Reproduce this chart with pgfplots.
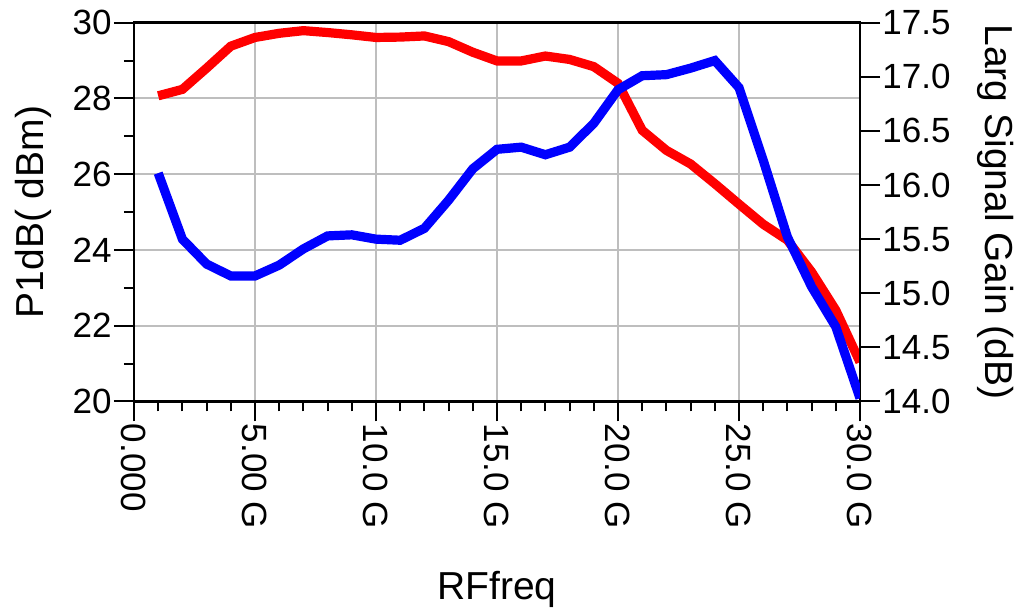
\documentclass[border=0pt]{standalone}
\usepackage{fontspec}
\setmainfont{Liberation Sans}
\usepackage{pgfplots}
\pgfplotsset{compat=1.18}
\pgfplotsset{/pgf/number format/assume math mode=true}
\definecolor{gridgray}{RGB}{190,190,190}
\begin{document}
\begin{tikzpicture}
\path[use as bounding box] (-67pt,-106.75pt) rectangle (445pt,200.75pt);
\begin{axis}[
  at={(0,0)}, anchor=south west,
  scale only axis, width=363pt, height=189.4pt,
  xmin=0, xmax=30, ymin=20, ymax=30,
  xtick={0,5,10,15,20,25,30},
  xticklabels={0.000,5.00 G,10.0 G,15.0 G,20.0 G,25.0 G,30.0 G},
  ytick={20,22,24,26,28,30},
  minor xtick={1,2,3,4,6,7,8,9,11,12,13,14,16,17,18,19,21,22,23,24,26,27,28,29},
  minor ytick={21,23,25,27,29},
  xtick pos=bottom, ytick pos=left,
  tick align=outside,
  major tick length=10pt, minor tick length=5pt,
  every tick/.style={black, line width=1pt},
  axis line style={line width=1.3pt},
  xmajorgrids, ymajorgrids,
  major grid style={gridgray, line width=1pt},
  tick label style={font=\fontsize{17.5}{21}\selectfont, inner sep=1pt},
  xticklabel style={rotate=-90, anchor=west},
  every axis x label/.style={at={(axis description cs:0.5,-0.5214)}, anchor=base},
  every axis y label/.style={at={(axis description cs:-0.1253,0.5)}, anchor=base, rotate=90},
  label style={font=\fontsize{19.5}{23}\selectfont},
  xlabel={RFfreq},
  ylabel={P1dB( dBm)},
]
\addplot[red, line width=4.6pt, no markers] coordinates {
(1,28.07) (2,28.24) (3,28.8) (4,29.38) (5,29.61) (6,29.72) (7,29.79) (8,29.74)
(9,29.68) (10,29.61) (11,29.62) (12,29.65) (13,29.50) (14,29.22) (15,28.99)
(16,28.99) (17,29.12) (18,29.03) (19,28.84) (20,28.40) (21,27.16) (22,26.63)
(23,26.27) (24,25.75) (25,25.21) (26,24.68) (27,24.26) (28,23.42) (29,22.41) (30,21.04)
};
\end{axis}
\begin{axis}[
  at={(0,0)}, anchor=south west,
  scale only axis, width=363pt, height=189.4pt,
  xmin=0, xmax=30, ymin=14, ymax=17.5,
  axis y line*=right, axis x line=none,
  ytick={14,14.5,15,15.5,16,16.5,17,17.5},
  yticklabel style={/pgf/number format/.cd, fixed, fixed zerofill, precision=1},
  tick align=outside,
  major tick length=10pt, minor tick length=5pt,
  every tick/.style={black, line width=1pt},
  axis line style={line width=1.3pt},
  tick label style={font=\fontsize{17.5}{21}\selectfont, inner sep=1pt},
  every axis y label/.style={at={(axis description cs:1.1722,0.5)}, anchor=base, rotate=-90},
  label style={font=\fontsize{19.5}{23}\selectfont},
  ylabel={Larg Signal Gain (dB)},
]
\addplot[blue, line width=4.6pt, no markers] coordinates {
(1,16.11) (2,15.50) (3,15.27) (4,15.16) (5,15.16) (6,15.26) (7,15.41) (8,15.53)
(9,15.54) (10,15.50) (11,15.49) (12,15.60) (13,15.86) (14,16.15) (15,16.33)
(16,16.35) (17,16.28) (18,16.35) (19,16.57) (20,16.88) (21,17.01) (22,17.02)
(23,17.08) (24,17.15) (25,16.90) (26,16.23) (27,15.52) (28,15.06) (29,14.69) (30,14.03)
};
\end{axis}
\end{tikzpicture}
\end{document}
